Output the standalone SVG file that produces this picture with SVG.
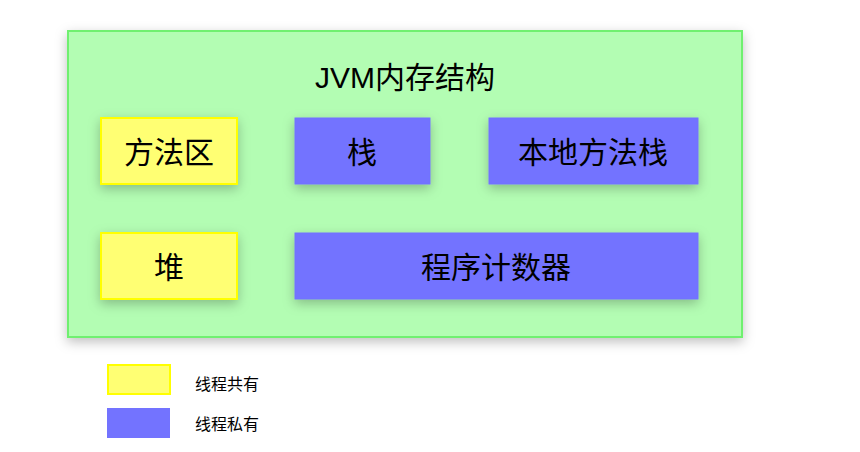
<svg xmlns="http://www.w3.org/2000/svg" width="860" height="452" viewBox="0 0 860 452">
<defs>
<filter id="sh" x="-20%" y="-20%" width="140%" height="150%">
<feDropShadow dx="0" dy="4" stdDeviation="6" flood-color="#000" flood-opacity="0.25"/>
</filter>
<style>
text{font-family:"Liberation Sans","Noto Sans CJK SC",sans-serif;fill:#000;}
.lbl{font-size:30px;text-anchor:middle;dominant-baseline:central;}
.sm{font-size:16px;dominant-baseline:central;}
.yel{fill:#ffff73;stroke:#ffff00;stroke-width:2;}
.blu{fill:#7373ff;stroke:#7373ff;stroke-width:1;}
</style>
</defs>
<rect width="860" height="452" fill="#fff"/>
<g id="jvm">
<rect x="68" y="31" width="674" height="306" fill="#b3fdb3" stroke="#70f070" stroke-width="2" filter="url(#sh)"/>
<text x="405" y="77" style="font-size:30px;text-anchor:middle;dominant-baseline:central">JVM内存结构</text>
</g>
<g id="method-area">
<rect class="yel" x="101" y="118" width="136" height="66" filter="url(#sh)"/>
<text class="lbl" x="169" y="152">方法区</text>
</g>
<g id="stack">
<rect class="blu" x="295" y="118" width="135" height="66" filter="url(#sh)"/>
<text class="lbl" x="362" y="152">栈</text>
</g>
<g id="native-stack">
<rect class="blu" x="489" y="118" width="209" height="66" filter="url(#sh)"/>
<text class="lbl" x="593" y="152">本地方法栈</text>
</g>
<g id="heap">
<rect class="yel" x="101" y="233" width="136" height="66" filter="url(#sh)"/>
<text class="lbl" x="169" y="267">堆</text>
</g>
<g id="pc">
<rect class="blu" x="295" y="233" width="403" height="66" filter="url(#sh)"/>
<text class="lbl" x="496" y="267">程序计数器</text>
</g>
<g id="connectors"></g>
<g id="legend-shared">
<rect class="yel" x="108" y="365" width="62" height="29"/>
<text class="sm" x="195" y="384">线程共有</text>
</g>
<g id="legend-private">
<rect class="blu" x="107.5" y="408.5" width="62" height="29"/>
<text class="sm" x="195" y="424">线程私有</text>
</g>
</svg>
